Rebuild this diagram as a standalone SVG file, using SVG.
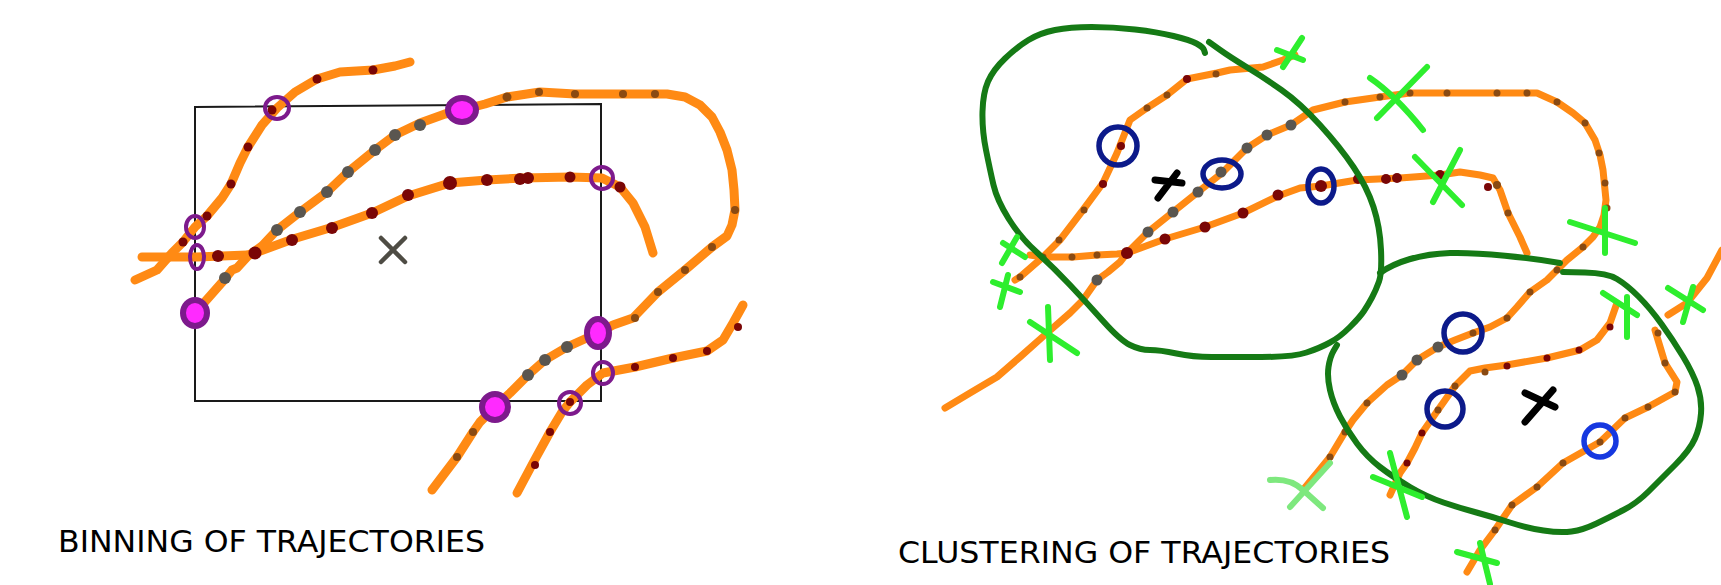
<svg xmlns="http://www.w3.org/2000/svg" width="1721" height="585" viewBox="0 0 1721 585">
  <style>
    .trk { fill: none; stroke: #ff8a14; stroke-linecap: round; stroke-linejoin: round; }
    .trkL { stroke-width: 9; }
    .trkR { stroke-width: 7; }
    .red { fill: #7a0606; }
    .brn { fill: #8a4a12; }
    .gry { fill: #5a5650; }
    .ring { fill: none; stroke: #7d1a8c; stroke-width: 4; }
    .hit { fill: #ff2aff; stroke: #7d1a8c; stroke-width: 6; }
    .clu { fill: none; stroke: #157a15; stroke-width: 6; stroke-linecap: round; stroke-linejoin: round; }
    .gx { fill: none; stroke: #2eee2e; stroke-width: 6; stroke-linecap: round; }
    .gxl { fill: none; stroke: #7ee87e; stroke-width: 6; stroke-linecap: round; }
    .bc { fill: none; stroke: #0c1a8a; stroke-width: 5.5; }
    .bcl { fill: none; stroke: #1638e0; stroke-width: 5.5; }
    .cx { fill: none; stroke: #000; stroke-width: 7; stroke-linecap: round; }
    .lbl { font-family: "DejaVu Sans", "Liberation Sans", sans-serif; font-size: 30px; fill: #000; }
  </style>
  <rect width="1721" height="585" fill="#fff"/>

  <!-- ===== Left panel: binning ===== -->
  <g id="bin-box">
    <polygon points="195,107 601,104 601,401 195,401" fill="none" stroke="#1a1a1a" stroke-width="2"/>
  </g>

  <g id="left-trajectories">
    <!-- upper-left curve -->
    <polyline class="trk trkL" points="135,280 157,270 172,253 183,242 195,227 207,216 222,198 231,184 240,163 248,147 262,125 277,108 295,92 317,79 340,72 373,70 395,66 410,62"/>
    <!-- horizontal entry joining the middle curve -->
    <polyline class="trk trkL" points="142,257 197,257 247,255 255,253 293,239 333,227 372,213 408,196 450,183 487,180 523,178 570,177 602,178 620,187 633,203 645,227 653,253"/>
    <!-- long looping curve -->
    <polyline class="trk trkL" points="195,313 210,296 225,279 232,270 237,268 248,256 262,246 277,230 300,212 327,192 348,172 375,150 395,135 420,123 445,114 462,110 485,104 507,97 540,92 575,94 623,94 667,94 685,97 700,105 712,117 720,132 727,150 732,170 734,190 735,210 732,225 727,236 712,247 685,270 658,292 633,318 613,325 598,333 567,347 545,360 528,375 510,393 495,407 480,422 473,432 457,457 432,490"/>
    <!-- lower-right curve -->
    <polyline class="trk trkL" points="517,493 533,463 550,432 562,412 570,402 587,385 603,373 635,367 673,358 707,351 723,340 733,323 743,305"/>

    <!-- sample points -->
    <g class="red">
      <circle cx="183" cy="242" r="4.5"/><circle cx="207" cy="216" r="4.5"/><circle cx="231" cy="184" r="4.5"/>
      <circle cx="248" cy="147" r="4.5"/><circle cx="272" cy="110" r="4.5"/><circle cx="317" cy="79" r="4.5"/>
      <circle cx="373" cy="70" r="4.5"/>
      <circle cx="218" cy="256" r="6"/><circle cx="255" cy="253" r="6.5"/><circle cx="292" cy="240" r="6"/>
      <circle cx="332" cy="228" r="6"/><circle cx="372" cy="213" r="6"/><circle cx="408" cy="195" r="6"/>
      <circle cx="450" cy="183" r="7"/><circle cx="487" cy="180" r="6"/><circle cx="520" cy="179" r="6"/>
      <circle cx="528" cy="178" r="6"/><circle cx="570" cy="177" r="5.5"/><circle cx="620" cy="187" r="5.5"/>
      <circle cx="535" cy="465" r="4"/><circle cx="550" cy="432" r="4"/><circle cx="570" cy="402" r="4"/>
      <circle cx="635" cy="367" r="4"/><circle cx="673" cy="358" r="4"/><circle cx="707" cy="351" r="4"/>
      <circle cx="738" cy="327" r="4"/>
    </g>
    <g class="gry">
      <circle cx="225" cy="278" r="6"/><circle cx="277" cy="230" r="6"/><circle cx="300" cy="212" r="6"/>
      <circle cx="327" cy="192" r="6"/><circle cx="348" cy="172" r="6"/><circle cx="375" cy="150" r="6"/>
      <circle cx="395" cy="135" r="6"/><circle cx="420" cy="125" r="6"/>
      <circle cx="567" cy="347" r="6"/><circle cx="545" cy="360" r="6"/><circle cx="528" cy="375" r="6"/>
    </g>
    <g class="brn">
      <circle cx="507" cy="97" r="4.5"/><circle cx="539" cy="92" r="4"/><circle cx="575" cy="94" r="4"/>
      <circle cx="623" cy="94" r="4"/><circle cx="655" cy="94" r="4"/><circle cx="735" cy="210" r="4"/>
      <circle cx="712" cy="247" r="4"/><circle cx="685" cy="270" r="4"/><circle cx="658" cy="292" r="4"/>
      <circle cx="635" cy="318" r="4"/><circle cx="473" cy="432" r="4"/><circle cx="457" cy="457" r="4"/>
    </g>
  </g>

  <g id="bin-crossings">
    <ellipse class="ring" cx="277" cy="108" rx="12" ry="11"/>
    <ellipse class="ring" cx="195" cy="227" rx="9" ry="11"/>
    <ellipse class="ring" cx="197" cy="257" rx="7" ry="12"/>
    <ellipse class="ring" cx="602" cy="178" rx="11" ry="11"/>
    <ellipse class="ring" cx="603" cy="373" rx="10" ry="11"/>
    <ellipse class="ring" cx="570" cy="403" rx="11" ry="11"/>
    <ellipse class="hit" cx="462" cy="110" rx="14" ry="12"/>
    <ellipse class="hit" cx="195" cy="313" rx="12" ry="13"/>
    <ellipse class="hit" cx="598" cy="333" rx="11" ry="14"/>
    <ellipse class="hit" cx="495" cy="407" rx="13" ry="13"/>
  </g>

  <g id="bin-centre">
    <path d="M381,238 L405,262 M405,238 L381,262" fill="none" stroke="#4e4c44" stroke-width="4.5" stroke-linecap="round"/>
  </g>

  <g id="label-binning">
    <text class="lbl" x="58" y="552" textLength="427" lengthAdjust="spacingAndGlyphs">BINNING OF TRAJECTORIES</text>
  </g>

  <!-- ===== Right panel: clustering ===== -->
  <g id="right-trajectories">
    <polyline class="trk trkR" points="1015,280 1020,277 1043,257 1060,240 1083,210 1103,183 1117,153 1130,120 1147,108 1167,95 1187,79 1217,73 1230,70 1263,67 1283,60 1295,55"/>
    <polyline class="trk trkR" points="1030,255 1043,257 1073,257 1097,255 1117,254 1127,253 1165,239 1205,227 1243,213 1278,196 1300,188 1321,186 1357,180 1400,178 1440,175 1460,172 1480,175 1493,178 1500,190 1508,213 1520,237 1527,253"/>
    <polyline class="trk trkR" points="945,408 970,393 997,377 1020,357 1047,333 1070,313 1083,300 1097,280 1108,272 1120,262 1127,253 1148,232 1173,212 1198,192 1222,173 1247,148 1267,135 1291,125 1313,110 1345,102 1380,97 1410,93 1447,93 1497,93 1537,93 1557,102 1573,113 1585,123 1595,140 1600,155 1603,170 1606,200 1604,215 1600,227 1593,237 1583,247 1567,260 1557,270 1547,280 1530,292 1517,307 1507,318 1490,327 1473,333 1455,340 1438,347 1417,360 1402,375 1387,385 1367,403 1353,420 1345,432 1330,457 1317,473 1303,490"/>
    <polyline class="trk trkR" points="1390,495 1400,473 1407,463 1415,448 1422,433 1438,410 1455,386 1470,371 1485,368 1507,365 1547,358 1580,350 1597,340 1610,323 1617,303"/>
    <polyline class="trk trkR" points="1467,572 1480,550 1495,530 1512,505 1537,487 1563,463 1600,442 1625,418 1648,407 1675,392 1677,382 1665,363 1658,340 1655,330"/>
    <polyline class="trk trkR" points="1668,315 1687,303 1707,278 1722,250"/>

    <g class="red">
      <circle cx="1103" cy="184" r="4"/><circle cx="1121" cy="146" r="4"/><circle cx="1187" cy="79" r="4"/>
      <circle cx="1127" cy="253" r="6"/><circle cx="1165" cy="239" r="5.5"/><circle cx="1205" cy="227" r="5.5"/>
      <circle cx="1243" cy="213" r="5.5"/><circle cx="1278" cy="195" r="5.5"/><circle cx="1321" cy="186" r="6"/>
      <circle cx="1358" cy="179" r="5"/><circle cx="1386" cy="179" r="5"/><circle cx="1397" cy="178" r="5"/>
      <circle cx="1440" cy="175" r="5"/><circle cx="1488" cy="187" r="4"/>
      <circle cx="1407" cy="463" r="3.5"/><circle cx="1422" cy="433" r="3.5"/><circle cx="1507" cy="366" r="3.5"/>
      <circle cx="1547" cy="358" r="3.5"/><circle cx="1579" cy="350" r="3.5"/><circle cx="1610" cy="327" r="3.5"/>
    </g>
    <g class="brn">
      <circle cx="1020" cy="277" r="3.5"/><circle cx="1059" cy="240" r="3.5"/><circle cx="1084" cy="210" r="3.5"/>
      <circle cx="1147" cy="108" r="3.5"/><circle cx="1167" cy="95" r="3.5"/><circle cx="1216" cy="74" r="3.5"/>
      <circle cx="1043" cy="257" r="3.5"/><circle cx="1072" cy="257" r="3.5"/><circle cx="1097" cy="255" r="3.5"/>
      <circle cx="1497" cy="185" r="4"/><circle cx="1508" cy="213" r="3.5"/>
      <circle cx="1345" cy="102" r="3.5"/><circle cx="1380" cy="97" r="3.5"/><circle cx="1410" cy="93" r="3.5"/>
      <circle cx="1447" cy="93" r="3.5"/><circle cx="1497" cy="93" r="3.5"/><circle cx="1527" cy="93" r="3.5"/>
      <circle cx="1557" cy="102" r="3.5"/><circle cx="1585" cy="123" r="3.5"/><circle cx="1599" cy="153" r="3.5"/>
      <circle cx="1605" cy="183" r="3.5"/><circle cx="1607" cy="208" r="3.5"/><circle cx="1583" cy="247" r="3.5"/>
      <circle cx="1557" cy="270" r="3.5"/><circle cx="1530" cy="292" r="3.5"/><circle cx="1507" cy="318" r="3.5"/>
      <circle cx="1473" cy="333" r="3.5"/><circle cx="1367" cy="403" r="3.5"/><circle cx="1345" cy="432" r="3.5"/>
      <circle cx="1330" cy="457" r="3.5"/>
      <circle cx="1438" cy="410" r="3.5"/><circle cx="1455" cy="386" r="3.5"/><circle cx="1485" cy="372" r="3.5"/>
      <circle cx="1495" cy="530" r="3.5"/><circle cx="1512" cy="505" r="3.5"/><circle cx="1537" cy="487" r="3.5"/>
      <circle cx="1563" cy="463" r="3.5"/><circle cx="1600" cy="442" r="3.5"/><circle cx="1625" cy="418" r="3.5"/>
      <circle cx="1648" cy="407" r="3.5"/><circle cx="1675" cy="392" r="3.5"/><circle cx="1665" cy="363" r="3.5"/>
      <circle cx="1658" cy="333" r="3.5"/>
    </g>
    <g class="gry">
      <circle cx="1097" cy="280" r="5.5"/><circle cx="1148" cy="232" r="5.5"/><circle cx="1173" cy="212" r="5.5"/>
      <circle cx="1198" cy="192" r="5.5"/><circle cx="1221" cy="172" r="5.5"/><circle cx="1247" cy="148" r="5.5"/>
      <circle cx="1267" cy="135" r="5.5"/><circle cx="1291" cy="125" r="5.5"/>
      <circle cx="1438" cy="347" r="5.5"/><circle cx="1417" cy="360" r="5.5"/><circle cx="1402" cy="375" r="5.5"/>
    </g>
  </g>

  <g id="cluster-1">
    <path class="clu" d="M1209,42 L1219.5,49.5 Q1230,57 1246.5,67 Q1263,77 1281.5,90 Q1300,103 1320,125 Q1340,147 1353.5,167 Q1367,187 1373.5,207 Q1380,227 1381,250 Q1382,273 1379,281.5 Q1376,290 1372,297.5 Q1368,305 1364,311 Q1360,317 1350,327 Q1340,337 1330,342.5 Q1320,348 1306.5,352.5 Q1293,357 1261.5,357 Q1230,357 1211.5,357 Q1193,357 1176.5,353.5 Q1160,350 1150,350 Q1140,350 1130,345 Q1120,340 1103.5,321.5 Q1087,303 1070,285 Q1053,267 1036.5,252 Q1020,237 1008.5,218.5 Q997,200 993.5,185 Q990,170 986,150 Q982,130 982.5,111.5 Q983,93 988,81.5 Q993,70 1005,58.5 Q1017,47 1028.5,40 Q1040,33 1055,30 Q1070,27 1091.5,27 Q1113,27 1135,29.5 Q1157,32 1173.5,36 Q1190,40 1196.5,43.5 Q1203,47 1204,50 L1205,53"/>
  </g>

  <g id="cluster-2">
    <path class="clu" d="M1380,273 C1395,262 1420,254 1450,253 S1530,258 1560,263"/>
    <path class="clu" d="M1563,272 L1585,272.5 Q1607,273 1617,279 Q1627,285 1638.5,296.5 Q1650,308 1661.5,324 Q1673,340 1683,356.5 Q1693,373 1697.5,386.5 Q1702,400 1701,413.5 Q1700,427 1695,438.5 Q1690,450 1675,465 Q1660,480 1648.5,491.5 Q1637,503 1623.5,510 Q1610,517 1596.5,523.5 Q1583,530 1571.5,531.5 Q1560,533 1543.5,530.5 Q1527,528 1510,522.5 Q1493,517 1476.5,512.5 Q1460,508 1443.5,502.5 Q1427,497 1410,487 Q1393,477 1380,467 Q1367,457 1357,443.5 Q1347,430 1340,416.5 Q1333,403 1330,390 Q1327,377 1328.5,367 Q1330,357 1333.5,351 L1337,345"/>
  </g>

  <g id="cluster-members">
    <circle class="bc" cx="1118" cy="146" r="19"/>
    <ellipse class="bc" cx="1222" cy="174" rx="19" ry="14"/>
    <ellipse class="bc" cx="1321" cy="186" rx="13" ry="17"/>
    <circle class="bc" cx="1463" cy="333" r="19"/>
    <circle class="bc" cx="1445" cy="409" r="18"/>
    <circle class="bcl" cx="1600" cy="441" r="16"/>
  </g>

  <g id="cluster-centres">
    <path class="cx" d="M1155,180 L1182,183 M1177,173 L1158,198"/>
    <path class="cx" d="M1525,393 L1555,407 M1553,390 L1525,422"/>
  </g>

  <g id="endpoints">
    <path class="gx" d="M1277,50 L1303,60 M1302,38 L1283,67"/>
    <path class="gx" d="M1370,78 Q1395,95 1423,130 M1427,67 L1377,118"/>
    <path class="gx" d="M1415,157 L1462,205 M1460,150 L1433,202"/>
    <path class="gx" d="M1570,222 L1635,243 M1605,208 L1605,253"/>
    <path class="gx" d="M1603,293 L1637,315 M1627,297 L1627,337"/>
    <path class="gx" d="M1668,288 L1703,310 M1693,287 L1683,322"/>
    <path class="gx" d="M1003,243 L1025,257 M1017,237 L1002,263"/>
    <path class="gx" d="M993,282 L1020,292 M1008,275 L1000,307"/>
    <path class="gx" d="M1030,322 L1077,353 M1048,307 L1050,360"/>
    <path class="gx" d="M1373,477 L1422,497 M1390,453 L1407,517"/>
    <path class="gx" d="M1457,552 L1497,563 M1480,543 L1490,584"/>
    <path class="gxl" d="M1270,480 Q1290,478 1303,490 L1323,508 M1330,463 L1290,507"/>
  </g>

  <g id="label-clustering">
    <text class="lbl" x="898" y="563" textLength="492" lengthAdjust="spacingAndGlyphs">CLUSTERING OF TRAJECTORIES</text>
  </g>
</svg>
